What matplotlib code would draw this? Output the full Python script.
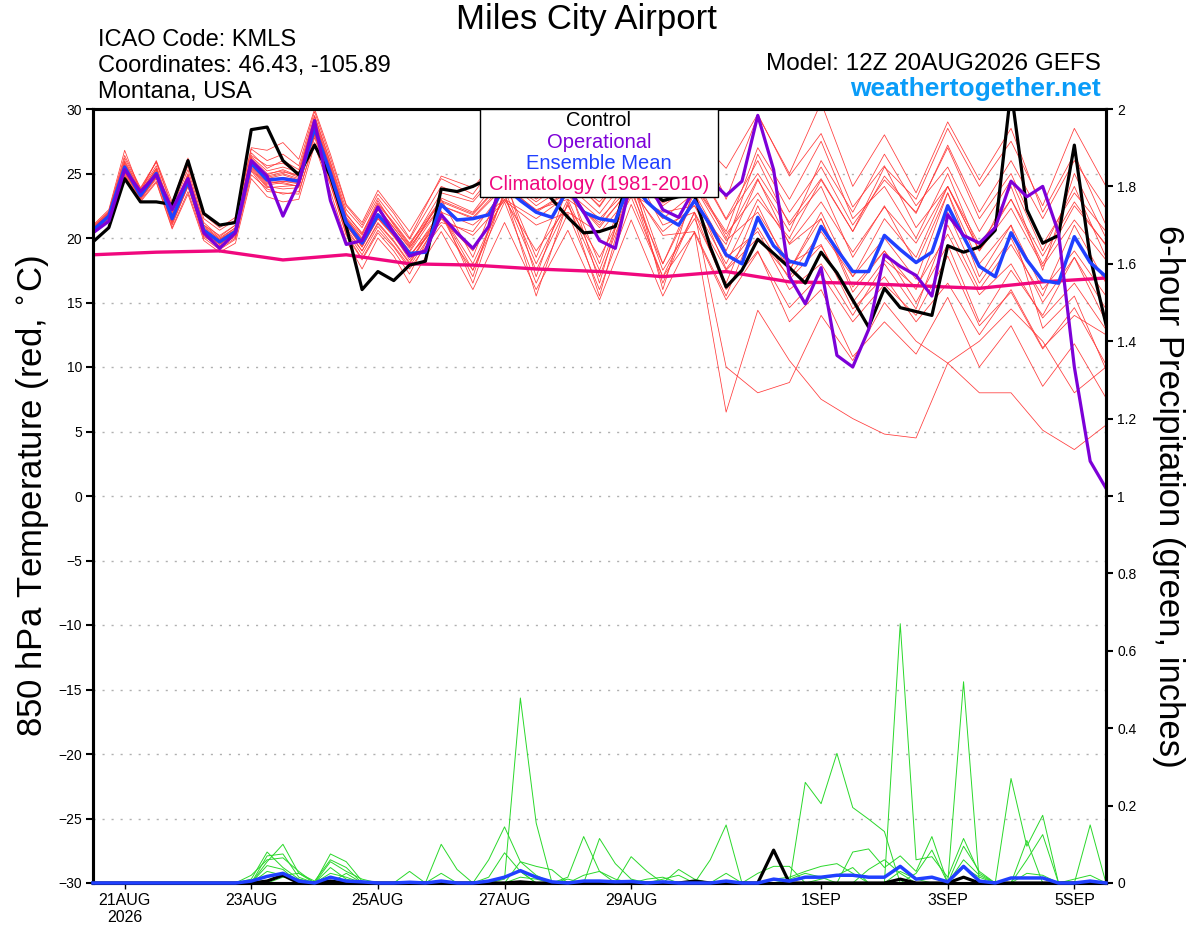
import numpy as np
import matplotlib
matplotlib.use('Agg')
from matplotlib import pyplot as plt
from matplotlib.patches import Rectangle

plt.rcParams['font.family'] = ['Liberation Sans', 'DejaVu Sans']

# forecast hours after 12Z 20AUG2026
hours = np.arange(0, 385, 6)
member_hours = np.r_[np.arange(0, 121, 6), np.arange(132, 385, 12)]
clim_hours = np.arange(0, 385, 24)

tick_hours = [12, 60, 108, 156, 204, 276, 324, 372]
tick_labels = ['21AUG\n2026', '23AUG', '25AUG', '27AUG', '29AUG', '1SEP', '3SEP', '5SEP']

# 850 hPa temperature (C)
control_t = [19.7, 20.8, 24.6, 22.8, 22.8, 22.6, 26.0, 21.9, 21.0, 21.2,
             28.4, 28.6, 26.0, 24.9, 27.2, 24.8, 20.9, 16.0, 17.4, 16.7,
             17.9, 18.2, 23.8, 23.6, 24.0, 24.6, 25.5, 24.2, 24.5, 23.0,
             21.6, 20.4, 20.5, 20.9, 26.0, 23.8, 22.9, 23.2, 23.3, 19.3,
             16.2, 17.5, 19.9, 18.8, 17.7, 16.5, 18.9, 17.3, 15.2, 13.1,
             16.1, 14.6, 14.3, 14.0, 19.4, 18.9, 19.3, 20.6, 31.5, 22.2,
             19.6, 20.2, 27.2, 18.5, 13.3]
mean_t = [20.6, 21.7, 25.5, 23.3, 25.0, 21.5, 24.4, 20.6, 19.7, 20.5,
          25.8, 24.5, 24.6, 24.4, 28.5, 25.0, 21.2, 19.6, 21.8, 20.4,
          18.8, 18.9, 22.6, 21.4, 21.5, 21.8, 24.0, 22.9, 22.0, 21.6,
          23.8, 22.0, 21.5, 21.3, 24.5, 22.8, 21.7, 21.0, 22.9, 21.0,
          18.7, 18.0, 21.6, 19.4, 18.2, 17.9, 20.9, 19.1, 17.4, 17.4,
          20.2, 19.1, 18.1, 18.9, 22.5, 20.1, 17.8, 17.0, 20.4, 18.3,
          16.7, 16.5, 20.1, 18.1, 17.0]
oper_t = [20.4, 21.3, 25.3, 23.6, 24.9, 22.2, 24.6, 20.4, 19.2, 20.4,
          26.0, 24.8, 21.7, 24.3, 29.1, 22.9, 19.5, 19.8, 22.4, 20.4,
          18.6, 19.0, 21.8, 20.4, 19.2, 20.9, 25.5, 26.5, 28.0, 29.8,
          24.0, 22.0, 19.8, 19.2, 24.5, 24.5, 22.2, 21.6, 23.8, 24.5,
          23.3, 24.4, 29.5, 25.3, 17.0, 14.9, 17.7, 10.9, 10.0, 12.9,
          18.7, 17.8, 17.1, 15.5, 21.8, 20.2, 19.6, 20.8, 24.4, 23.2,
          24.0, 20.4, 10.0, 2.7, 0.6]
clim_t = [18.7, 18.9, 19.0, 18.3, 18.7, 18.0, 17.9, 17.6, 17.4, 17.0,
          17.4, 16.6, 16.5, 16.3, 16.1, 16.6, 16.9]

member_t = [
    [20.9, 22.0, 26.2, 23.8, 25.9, 22.3, 25.3, 21.2, 20.1, 21.0, 26.4, 25.6, 25.8, 25.0, 29.4, 25.8, 21.9, 20.3, 22.9, 21.0, 19.4,
     23.5, 22.8, 25.6, 23.1, 25.0, 22.4, 26.0,
     23.5, 25.8, 21.4, 25.0, 21.2, 24.6, 20.5, 24.8, 21.9, 27.2, 22.0, 26.0, 21.5, 26.0, 22.3],
    [20.3, 21.3, 24.8, 22.9, 24.4, 20.8, 23.6, 20.0, 19.1, 19.9, 24.9, 23.8, 23.4, 23.6, 27.4, 24.1, 20.3, 18.4, 20.6, 19.3, 17.6,
     21.0, 17.5, 22.8, 16.5, 21.9, 16.0, 22.6,
     17.0, 20.4, 15.2, 18.9, 14.6, 17.2, 13.5, 16.4, 14.0, 18.6, 13.2, 15.8, 11.4, 14.6, 10.2],
    [21.0, 22.2, 26.8, 23.6, 26.0, 22.8, 26.2, 21.8, 20.8, 21.6, 27.0, 26.8, 27.4, 26.1, 30.0, 26.5, 22.6, 21.2, 23.7, 22.1, 20.5,
     24.6, 23.4, 26.7, 24.0, 26.3, 23.8, 27.3,
     24.2, 28.0, 25.4, 29.6, 24.8, 28.1, 22.4, 25.6, 20.8, 24.0, 19.5, 23.0, 18.6, 22.8, 19.4],
    [20.4, 21.5, 25.0, 23.0, 24.6, 21.0, 24.0, 20.1, 19.4, 20.1, 25.3, 23.9, 24.0, 24.1, 28.0, 24.4, 20.6, 19.0, 21.1, 19.7, 18.0,
     21.9, 18.0, 23.3, 17.5, 22.6, 17.0, 23.6,
     18.0, 23.5, 17.6, 20.8, 16.8, 19.4, 15.0, 18.3, 16.2, 20.3, 15.6, 18.0, 13.8, 16.5, 12.9],
    [20.8, 21.9, 25.9, 23.6, 25.4, 21.9, 24.9, 20.9, 19.9, 20.8, 26.1, 24.8, 25.1, 24.9, 29.0, 25.5, 21.5, 19.9, 22.4, 20.8, 19.2,
     22.9, 21.9, 24.6, 22.5, 24.1, 21.9, 25.1,
     22.7, 24.1, 20.3, 23.5, 19.6, 22.8, 18.9, 22.4, 19.6, 24.0, 19.0, 22.3, 17.8, 21.4, 18.3],
    [20.5, 21.6, 25.3, 23.2, 24.9, 21.3, 24.2, 20.4, 19.5, 20.3, 25.6, 24.2, 24.4, 24.2, 28.3, 24.8, 21.0, 19.3, 21.5, 20.1, 18.5,
     22.1, 16.5, 23.7, 18.0, 23.0, 17.5, 24.0,
     16.5, 22.0, 16.0, 19.0, 13.5, 16.0, 10.8, 13.5, 11.0, 15.4, 10.0, 13.2, 8.5, 11.8, 7.6],
    [20.7, 21.8, 25.6, 23.4, 25.1, 21.6, 24.5, 20.7, 19.8, 20.6, 25.9, 24.6, 24.9, 24.5, 28.6, 25.2, 21.3, 19.7, 21.9, 20.5, 18.9,
     22.5, 21.6, 24.2, 22.1, 23.6, 21.5, 24.0,
     20.2, 20.5, 6.5, 14.4, 10.5, 7.5, 6.0, 4.8, 4.5, 10.3, 12.0, 14.5, 12.0, 8.0, 10.0],
    [20.5, 21.6, 25.1, 23.1, 24.7, 21.2, 24.1, 20.3, 19.3, 20.2, 25.4, 24.0, 23.8, 23.9, 28.1, 24.5, 20.5, 18.7, 20.9, 19.4, 17.8,
     21.5, 19.0, 23.0, 19.0, 22.5, 18.5, 23.2,
     17.0, 22.0, 10.0, 8.0, 8.8, 14.0, 10.5, 15.0, 12.0, 10.3, 8.0, 8.0, 5.1, 3.6, 5.5],
    [20.9, 22.1, 26.4, 23.9, 25.9, 22.5, 25.6, 21.5, 20.6, 21.4, 26.9, 26.0, 26.5, 25.6, 29.8, 26.2, 22.5, 21.0, 23.4, 21.9, 20.0,
     24.8, 23.9, 26.8, 24.2, 27.0, 24.5, 28.0,
     25.0, 28.5, 23.0, 29.5, 25.0, 30.5, 24.0, 28.0, 23.5, 29.0, 24.5, 28.5, 22.0, 26.5, 21.0],
    [20.4, 21.4, 24.9, 22.8, 24.3, 20.7, 23.4, 19.8, 18.9, 19.6, 24.6, 23.2, 22.8, 23.0, 27.2, 23.6, 19.8, 17.6, 20.0, 18.6, 16.5,
     20.5, 16.0, 21.2, 16.0, 20.6, 15.2, 21.4,
     15.5, 20.5, 15.5, 21.5, 17.5, 22.0, 17.0, 20.0, 16.8, 23.5, 18.0, 21.0, 16.0, 19.0, 15.5],
    [20.6, 21.7, 25.7, 23.4, 25.3, 21.6, 24.7, 20.8, 19.9, 20.6, 25.9, 24.7, 25.0, 24.6, 28.8, 25.1, 21.4, 19.8, 22.2, 20.6, 19.0,
     23.1, 22.0, 25.2, 23.0, 24.8, 22.5, 26.0,
     23.5, 24.8, 20.0, 24.6, 19.5, 21.5, 16.2, 19.0, 15.0, 19.5, 13.5, 17.5, 14.0, 18.5, 14.5],
    [20.7, 21.8, 25.4, 23.2, 25.0, 21.7, 24.3, 20.5, 19.6, 20.4, 25.7, 24.4, 24.2, 24.0, 28.2, 24.7, 21.0, 19.4, 21.5, 20.2, 18.3,
     21.5, 20.2, 22.9, 21.0, 22.0, 20.4, 23.4,
     22.0, 22.5, 19.5, 26.5, 22.0, 25.5, 21.0, 24.5, 22.0, 27.0, 21.5, 25.0, 19.5, 23.5, 20.5],
    [20.6, 21.7, 25.6, 23.5, 25.2, 21.4, 24.6, 20.6, 19.8, 20.7, 26.2, 25.0, 25.2, 24.7, 28.9, 25.3, 21.6, 20.2, 22.6, 21.1, 19.5,
     22.8, 21.8, 24.5, 22.8, 24.6, 22.8, 25.5,
     21.0, 22.0, 17.5, 20.0, 17.0, 20.5, 17.0, 21.5, 18.5, 24.0, 19.0, 23.0, 18.0, 22.5, 19.5],
    [20.5, 21.5, 25.2, 23.0, 24.8, 21.1, 24.0, 20.2, 19.2, 20.0, 25.2, 23.6, 23.5, 23.4, 27.8, 24.2, 20.2, 18.3, 20.4, 19.0, 17.2,
     21.9, 17.5, 23.5, 15.5, 22.8, 15.5, 24.4,
     17.5, 21.5, 16.5, 22.5, 17.5, 21.5, 15.8, 19.0, 16.0, 22.0, 16.5, 20.0, 15.0, 18.5, 13.5],
    [20.8, 22.0, 26.0, 23.7, 25.6, 22.0, 25.0, 21.0, 20.2, 21.0, 26.6, 25.4, 26.0, 25.3, 29.5, 25.9, 22.2, 20.8, 23.1, 21.5, 19.9,
     24.0, 23.0, 26.0, 23.5, 25.5, 23.2, 26.8,
     24.5, 26.0, 21.5, 26.0, 21.0, 24.0, 18.5, 22.5, 18.0, 23.5, 17.0, 21.0, 13.0, 15.5, 9.8],
    [20.4, 21.6, 25.2, 23.1, 24.7, 21.4, 24.2, 20.6, 19.6, 20.3, 25.5, 24.1, 24.3, 24.0, 28.0, 24.6, 20.8, 19.0, 21.2, 19.8, 18.1,
     22.0, 21.0, 23.0, 21.5, 23.3, 21.0, 23.8,
     20.5, 22.5, 18.0, 23.0, 20.0, 24.5, 20.5, 25.5, 23.0, 28.5, 24.0, 27.5, 22.5, 28.5, 24.0],
    [20.7, 21.8, 25.8, 23.5, 25.4, 21.8, 24.8, 21.0, 20.0, 20.8, 26.3, 25.2, 25.5, 25.1, 29.2, 25.6, 21.8, 20.4, 22.7, 21.2, 19.6,
     23.0, 18.5, 24.8, 17.0, 24.0, 18.0, 25.2,
     16.0, 24.0, 19.8, 22.0, 18.0, 19.5, 14.5, 17.0, 13.5, 16.5, 12.5, 16.0, 11.5, 14.0, 12.5],
    [20.6, 21.7, 25.4, 23.2, 24.9, 21.3, 24.3, 20.4, 19.5, 20.4, 25.8, 24.5, 24.7, 24.5, 28.6, 25.0, 21.1, 19.5, 21.7, 20.3, 18.7,
     21.2, 20.5, 23.8, 22.0, 23.5, 20.8, 24.0,
     21.5, 23.5, 19.0, 24.5, 20.5, 26.0, 22.0, 26.5, 22.5, 25.5, 20.5, 24.5, 19.0, 24.0, 18.5],
    [20.7, 21.9, 25.6, 23.4, 25.1, 21.6, 24.6, 20.7, 19.7, 20.5, 25.9, 24.9, 25.3, 24.8, 29.0, 25.4, 21.5, 20.0, 22.3, 20.8, 19.3,
     22.5, 21.5, 24.0, 22.2, 23.0, 21.2, 24.8,
     22.5, 24.2, 20.5, 27.0, 23.0, 27.5, 21.5, 24.0, 20.0, 25.0, 19.0, 24.0, 17.5, 25.0, 20.0],
    [20.5, 21.6, 25.3, 23.2, 24.9, 21.4, 24.3, 20.6, 19.8, 20.6, 25.7, 24.3, 24.4, 24.3, 28.4, 24.9, 21.0, 19.3, 21.6, 20.2, 18.6,
     21.8, 17.0, 24.4, 18.5, 24.4, 16.5, 25.0,
     18.0, 23.0, 18.5, 20.5, 16.0, 18.0, 14.0, 18.0, 14.5, 21.0, 16.0, 19.5, 15.5, 21.0, 16.5],
]

# 6-hour precipitation (inches)
control_p = [0, 0, 0, 0, 0, 0, 0, 0, 0, 0,
             0, 0.005, 0.02, 0, 0, 0.005, 0, 0, 0, 0,
             0, 0, 0, 0, 0, 0, 0, 0.003, 0, 0,
             0, 0, 0, 0, 0, 0, 0, 0, 0.005, 0,
             0, 0, 0, 0.085, 0, 0, 0, 0, 0, 0,
             0, 0.01, 0, 0, 0, 0.015, 0, 0, 0, 0,
             0, 0, 0, 0, 0]
mean_p = [0, 0, 0, 0, 0, 0, 0, 0, 0, 0,
          0.005, 0.017, 0.025, 0.005, 0, 0.015, 0.005, 0.003, 0, 0,
          0.002, 0, 0.005, 0, 0, 0.005, 0.015, 0.032, 0.015, 0.003,
          0, 0.005, 0.005, 0.003, 0.004, 0, 0.003, 0, 0, 0,
          0.005, 0, 0, 0.01, 0.005, 0.015, 0.015, 0.02, 0.02, 0.015,
          0.015, 0.043, 0.01, 0.015, 0.003, 0.043, 0.005, 0, 0.013, 0.013,
          0.013, 0, 0, 0.005, 0]
member_p = [
    [0, 0, 0, 0, 0, 0, 0, 0, 0, 0,
     0.01, 0.08, 0.04, 0.01, 0, 0.075, 0.055, 0.005, 0, 0,
     0, 0, 0, 0, 0, 0, 0.01, 0.478, 0.155, 0,
     0, 0, 0, 0, 0, 0, 0, 0, 0, 0,
     0, 0, 0, 0, 0, 0.26, 0.205, 0.335, 0.195, 0.165,
     0.133, 0, 0, 0, 0, 0, 0, 0, 0, 0,
     0, 0, 0, 0, 0],
    [0, 0, 0, 0, 0, 0, 0, 0, 0, 0,
     0, 0.055, 0.10, 0.025, 0.005, 0.06, 0.04, 0, 0, 0,
     0.03, 0, 0.10, 0.035, 0, 0, 0, 0, 0, 0,
     0.015, 0.12, 0.03, 0, 0, 0, 0, 0, 0, 0,
     0, 0, 0, 0, 0, 0, 0, 0, 0, 0,
     0, 0.67, 0.06, 0.068, 0.015, 0.115, 0.025, 0, 0, 0.11,
     0, 0, 0, 0, 0],
    [0, 0, 0, 0, 0, 0, 0, 0, 0, 0,
     0.02, 0.06, 0.065, 0.03, 0, 0, 0.025, 0, 0, 0,
     0, 0, 0, 0, 0, 0.06, 0.145, 0.055, 0.043, 0.034,
     0, 0, 0, 0, 0.068, 0.03, 0, 0, 0, 0,
     0, 0, 0, 0, 0, 0, 0, 0, 0, 0,
     0, 0, 0, 0, 0, 0.52, 0, 0, 0.27, 0.095,
     0.175, 0, 0, 0, 0],
    [0, 0, 0, 0, 0, 0, 0, 0, 0, 0,
     0, 0.07, 0.075, 0.015, 0, 0.055, 0.03, 0.01, 0, 0,
     0, 0, 0, 0, 0, 0.015, 0.078, 0.03, 0, 0,
     0, 0, 0.115, 0.05, 0.01, 0, 0, 0, 0, 0.06,
     0.15, 0, 0.025, 0.043, 0.043, 0, 0, 0, 0.08, 0.088,
     0.04, 0.07, 0.03, 0.12, 0, 0, 0, 0, 0, 0,
     0, 0, 0, 0.15, 0],
    [0, 0, 0, 0, 0, 0, 0, 0, 0, 0,
     0, 0.045, 0.035, 0, 0, 0.025, 0.015, 0, 0, 0,
     0, 0, 0.025, 0, 0, 0, 0, 0.055, 0.02, 0,
     0.01, 0, 0, 0, 0, 0, 0, 0.035, 0.01, 0,
     0.025, 0, 0, 0.01, 0.015, 0.03, 0.043, 0.05, 0.025, 0,
     0, 0, 0.025, 0.085, 0, 0.06, 0.02, 0, 0, 0.06,
     0.125, 0, 0, 0, 0],
    [0, 0, 0, 0, 0, 0, 0, 0, 0, 0,
     0, 0.03, 0.02, 0.025, 0, 0.04, 0.01, 0, 0, 0,
     0, 0, 0, 0, 0, 0, 0.015, 0.03, 0, 0,
     0, 0.02, 0.03, 0.01, 0, 0.01, 0.015, 0, 0, 0,
     0, 0, 0, 0, 0.01, 0.025, 0.015, 0, 0, 0.035,
     0.06, 0.025, 0, 0, 0, 0.095, 0.03, 0, 0, 0,
     0, 0, 0.01, 0.02, 0],
    [0, 0, 0, 0, 0, 0, 0, 0, 0, 0,
     0, 0, 0.015, 0.01, 0, 0, 0, 0, 0, 0,
     0, 0, 0, 0, 0, 0, 0, 0.015, 0.01, 0,
     0, 0, 0, 0, 0, 0, 0.01, 0.02, 0, 0,
     0, 0, 0, 0, 0, 0, 0.01, 0.02, 0.04, 0,
     0, 0.03, 0.01, 0, 0, 0.04, 0.015, 0, 0, 0.025,
     0.02, 0, 0, 0, 0],
]

c_member = '#ff3a3a'
c_green = '#2ad82a'
c_oper = '#7d00d8'
c_mean = '#2040ff'
c_clim = '#f0087e'

fig = plt.figure(figsize=(12, 9.27), dpi=100)
ax = fig.add_axes([93 / 1200, 44 / 927, 1013 / 1200, 774 / 927])
ax2 = ax.twinx()

for row in member_t:
    ax.plot(member_hours, row, color=c_member, lw=0.55, zorder=2)
ax.plot(clim_hours, clim_t, color=c_clim, lw=2.4, zorder=3)
ax.plot(hours, control_t, color='black', lw=2.3, zorder=4)
ax.plot(hours, mean_t, color=c_mean, lw=2.5, zorder=5)
ax.plot(hours, oper_t, color=c_oper, lw=2.3, zorder=6)

for row in member_p:
    ax2.plot(hours, row, color=c_green, lw=0.7, zorder=2)
ax2.plot(hours, control_p, color='black', lw=2.3, zorder=4, clip_on=False)
ax2.plot(hours, mean_p, color=c_mean, lw=2.5, zorder=5, clip_on=False)

ax.set_xlim(0, 384)
ax.set_ylim(-30, 30)
ax2.set_ylim(0, 2)
ax.set_yticks(np.arange(-30, 31, 5))
ax2.set_yticks(np.arange(0, 2.01, 0.2))
ax2.set_yticklabels(['%g' % v for v in np.arange(0, 2.01, 0.2).round(1)])
ax.set_xticks(tick_hours)
ax.set_xticklabels(tick_labels)

for y in range(-25, 30, 5):
    ax.axhline(y, color='#b0b0b0', lw=1.0, ls=(0, (1.5, 5)), zorder=1)

for a in (ax, ax2):
    for s in a.spines.values():
        s.set_linewidth(2.2)
ax.tick_params(axis='y', direction='out', length=5, width=1.5, labelsize=10, pad=3)
ax2.tick_params(axis='y', direction='out', length=5, width=1.5, labelsize=10, pad=3)
ax.tick_params(axis='x', direction='out', length=4, width=1.0, labelsize=11.5, pad=3)

ax.set_ylabel('850 hPa Temperature (red, $^{\\circ}$C)', fontsize=25, labelpad=5)
ax2.set_ylabel('6-hour Precipitation (green, inches)', fontsize=25, rotation=270,
               labelpad=35)

# legend box
ax2.add_patch(Rectangle((0.382, 0.886), 0.235, 0.114, transform=ax2.transAxes,
                        facecolor='white', edgecolor='black', lw=1.0, zorder=10))
legend_items = [('Control', 'black'), ('Operational', c_oper),
                ('Ensemble Mean', c_mean), ('Climatology (1981-2010)', c_clim)]
for k, (txt, col) in enumerate(legend_items):
    ax2.text(0.4995, 0.9845 - k * 0.0275, txt, color=col, fontsize=14.5,
             ha='center', va='center', transform=ax2.transAxes, zorder=11)

fig.text(586 / 1200, 1 - 20 / 927, 'Miles City Airport', fontsize=25,
         ha='center', va='center')
fig.text(98 / 1200, 1 - 40 / 927, 'ICAO Code: KMLS', fontsize=17, va='center')
fig.text(98 / 1200, 1 - 66 / 927, 'Coordinates: 46.43, -105.89', fontsize=17, va='center')
fig.text(98 / 1200, 1 - 92 / 927, 'Montana, USA', fontsize=17, va='center')
fig.text(1101 / 1200, 1 - 64 / 927, 'Model: 12Z 20AUG2026 GEFS', fontsize=17.5,
         ha='right', va='center')
fig.text(1101 / 1200, 1 - 89 / 927, 'weathertogether.net', fontsize=19,
         fontweight='bold', color='#0a9cf8', ha='right', va='center')

fig.savefig('out.png', dpi=100)
